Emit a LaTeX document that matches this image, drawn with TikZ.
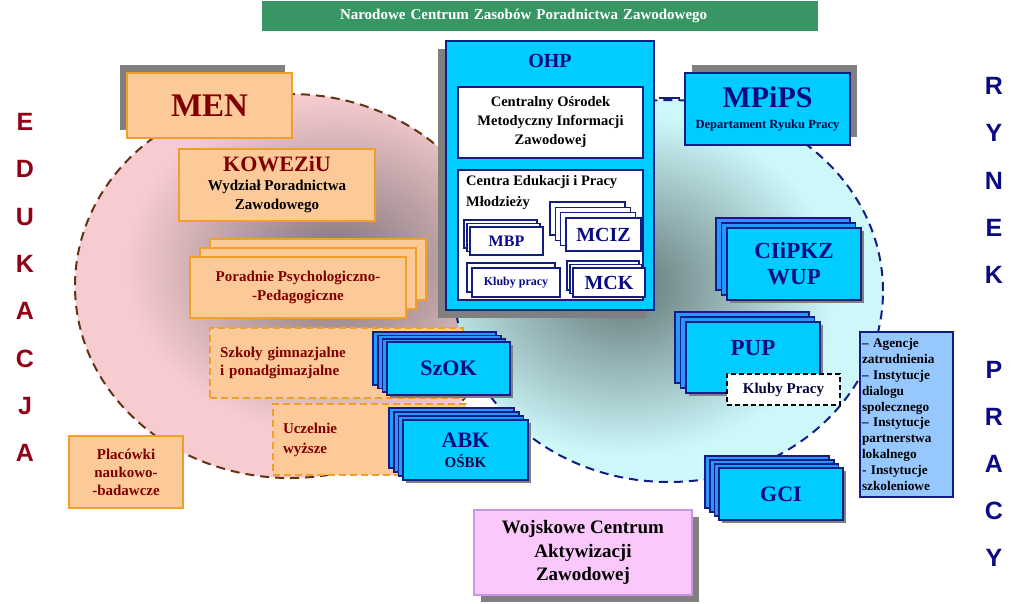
\documentclass[tikz,border=0pt]{standalone}
\usepackage{fontspec}
\setmainfont{Liberation Serif}
\newfontfamily\lettersans{Liberation Sans}
\usetikzlibrary{shadows}

\definecolor{peach}{RGB}{252,201,152}
\definecolor{orangeline}{RGB}{240,160,40}
\definecolor{maroontxt}{RGB}{128,0,0}
\definecolor{ohpcyan}{RGB}{0,204,255}
\definecolor{stackblue}{RGB}{40,150,255}
\definecolor{navyline}{RGB}{20,30,130}
\definecolor{navytxt}{RGB}{10,10,130}
\definecolor{titlegreen}{RGB}{56,150,100}
\definecolor{edupink}{RGB}{247,204,208}
\definecolor{edugray}{RGB}{125,115,117}
\definecolor{eduborder}{RGB}{100,50,20}
\definecolor{rynekcyan}{RGB}{204,248,250}
\definecolor{rynekgray}{RGB}{100,118,120}
\definecolor{wcazpink}{RGB}{250,200,250}
\definecolor{wcazline}{RGB}{200,150,230}
\definecolor{listblue}{RGB}{150,200,255}
\definecolor{boxshadow}{RGB}{128,128,128}
\definecolor{edured}{RGB}{145,0,20}

\newcommand{\sz}[2]{\fontsize{#1}{#2}\selectfont}

\tikzstyle{orangebox} = [rectangle, draw=orangeline, line width=1.8pt, fill=peach, align=center, inner sep=0pt, text=maroontxt, font=\bfseries\sz{15}{18.5}]
\tikzstyle{dashbox} = [orangebox, dash pattern=on 7pt off 4pt]
\tikzstyle{bluebox} = [rectangle, draw=navyline, line width=2pt, fill=ohpcyan, align=center, inner sep=0pt, text=navytxt, font=\bfseries\sz{22}{26}]
\tikzstyle{whitebox} = [rectangle, draw=navyline, line width=1.3pt, fill=white, align=center, inner sep=0pt, font=\bfseries\sz{14.5}{19}]
\tikzstyle{smallbox} = [whitebox, line width=1.5pt, text=navytxt]
\tikzstyle{edgeline} = [line width=2pt, dash pattern=on 9pt off 6pt]
\tikzstyle{sideletter} = [font=\lettersans\bfseries\sz{25}{25}, inner sep=0pt]
\tikzset{
  peachlayer/.style 2 args={general shadow={shadow xshift=#1pt, shadow yshift=#2pt, fill=peach, draw=orangeline, line width=1.8pt}},
  whitelayer/.style 2 args={general shadow={shadow xshift=#1pt, shadow yshift=#2pt, fill=white, draw=navyline, line width=1.5pt}},
  bluelayer/.style 2 args={general shadow={shadow xshift=#1pt, shadow yshift=#2pt, fill=stackblue, draw=navyline, line width=1.6pt}},
  grayshadow/.style 2 args={general shadow={shadow xshift=#1pt, shadow yshift=#2pt, fill=boxshadow, draw=none}},
}

\begin{document}
\begin{tikzpicture}[x=1pt, y=-1pt]
    \useasboundingbox (0,0) rectangle (1023,603);

    % obszary
    \begin{scope}
        \clip (290,286) ellipse [x radius=215pt, y radius=192pt];
        \fill[edupink] (290,286) ellipse [x radius=215pt, y radius=192pt];
        \shade[inner color=edugray, outer color=edupink] (335,265) ellipse [x radius=210pt, y radius=170pt];
    \end{scope}
    \draw[edgeline, eduborder] (290,286) ellipse [x radius=215pt, y radius=192pt];
    \begin{scope}
        \clip (669,291) ellipse [x radius=214pt, y radius=191pt];
        \fill[rynekcyan] (669,291) ellipse [x radius=214pt, y radius=191pt];
        \shade[inner color=rynekgray, outer color=rynekcyan] (625,285) ellipse [x radius=210pt, y radius=170pt];
    \end{scope}
    \draw[edgeline, navyline] (669,291) ellipse [x radius=214pt, y radius=191pt];

    \node[fill=titlegreen, text=white, minimum width=556pt, minimum height=30pt, text width=556pt, align=left, inner sep=0pt, font=\bfseries\sz{15}{17}] (ncz) at (540,16) {\hspace*{78pt}Narodowe Centrum Zasobów Poradnictwa Zawodowego};

    % edukacja
    \node[orangebox, grayshadow={-7}{8}, minimum width=165pt, minimum height=65pt, font=\bfseries\sz{33}{36}] (men) at (209.5,105.5) {MEN};
    \node[orangebox, minimum width=196pt, minimum height=72pt, font=\bfseries\sz{15}{19}] (koweziu) at (277,185) {{\sz{22}{22}KOWEZiU}\\{\color{black}Wydział Poradnictwa}\\{\color{black}Zawodowego}};
    \node[orangebox, peachlayer={20}{18}, peachlayer={10}{9}, minimum width=216pt, minimum height=61pt] (poradnie) at (298,287.5) {Poradnie Psychologiczno-\\-Pedagogiczne};
    \node[dashbox, minimum width=253pt, minimum height=70pt, text width=233pt, align=left, font=\bfseries\sz{15}{18}] (szkoly) at (336.5,363) {Szkoły gimnazjalne\\i ponadgimazjalne};
    \node[dashbox, minimum width=193pt, minimum height=71pt, text width=173pt, align=left, font=\bfseries\sz{15}{20}] (uczelnie) at (369.5,439.5) {Uczelnie\\wyższe};
    \node[orangebox, minimum width=114pt, minimum height=72pt, font=\bfseries\sz{15}{18}] (placowki) at (126,472) {Placówki\\naukowo-\\-badawcze};
    \node[bluebox, grayshadow={3}{-3}, bluelayer={-14}{10}, bluelayer={-9.3}{6.7}, bluelayer={-4.7}{3.3}, minimum width=123pt, minimum height=53pt] (szok) at (448.5,368.5) {SzOK};
    \node[bluebox, grayshadow={3}{-3}, bluelayer={-14}{12}, bluelayer={-9.3}{8}, bluelayer={-4.7}{4}, minimum width=125pt, minimum height=60pt, font=\bfseries\sz{22}{20}] (abk) at (465.5,450) {ABK\\{\sz{15}{15}\color{navytxt!55!black}OŚBK}};

    % OHP
    \node[bluebox, grayshadow={-8}{-8}, minimum width=208pt, minimum height=269pt] (ohp) at (550,175.5) {};
    \node[text=navytxt, font=\bfseries\sz{20}{22}, inner sep=0pt] (ohptitle) at (550,61) {OHP};
    \node[whitebox, minimum width=185pt, minimum height=71pt] (comiz) at (550.5,122.5) {Centralny Ośrodek\\Metodyczny Informacji\\Zawodowej};
    \node[whitebox, minimum width=185pt, minimum height=130pt] (ceipm) at (550.5,235) {};
    \node[anchor=north west, align=left, inner sep=0pt, font=\bfseries\sz{14.5}{21}] (ceipmtitle) at (466,175) {Centra Edukacji i Pracy\\Młodzieży};
    \node[smallbox, whitelayer={-6}{7}, whitelayer={-3}{3.5}, minimum width=73pt, minimum height=28pt, font=\bfseries\sz{16}{18}] (mbp) at (506.5,241) {MBP};
    \node[smallbox, whitelayer={-16}{16}, whitelayer={-10.7}{10.7}, whitelayer={-5.3}{5.3}, minimum width=75pt, minimum height=33pt, font=\bfseries\sz{20}{22}] (mciz) at (603.5,234.5) {MCIZ};
    \node[smallbox, whitelayer={-5}{5}, minimum width=88pt, minimum height=29pt, font=\bfseries\sz{12}{14}] (klubyohp) at (516,282.5) {Kluby pracy};
    \node[smallbox, whitelayer={-6}{7}, whitelayer={-3}{3.5}, minimum width=72pt, minimum height=29pt, font=\bfseries\sz{20}{22}] (mck) at (609,282.5) {MCK};

    % rynek pracy
    \node[bluebox, grayshadow={7}{8}, minimum width=165pt, minimum height=72pt, font=\bfseries\sz{30}{21}] (mpips) at (767.5,109) {MPiPS\\{\sz{12.5}{14}\color{navytxt!50!black}Departament Ryuku Pracy}};
    \coordinate (ohplink) at (0,98);
    \draw[navyline, line width=2.2pt, shorten <=4pt, shorten >=4pt] (ohp.east |- ohplink) -- (mpips.west |- ohplink);
    \node[bluebox, grayshadow={3}{-3}, bluelayer={-11}{10}, bluelayer={-5.5}{5}, minimum width=134pt, minimum height=72pt, font=\bfseries\sz{23}{26}] (cipkz) at (794,264) {CIiPKZ\\WUP};
    \node[bluebox, grayshadow={3}{-3}, bluelayer={-11}{10}, bluelayer={-5.5}{5}, minimum width=134pt, minimum height=71pt, font=\bfseries\sz{23}{26}] (pup) at (753,357.5) {\raisebox{20pt}{PUP}};
    \node[rectangle, draw=black, fill=white, line width=1.2pt, dash pattern=on 5pt off 3pt, minimum width=113pt, minimum height=31pt, inner sep=0pt, text=navytxt!45!black, font=\bfseries\sz{15}{17}] (klubypup) at (783.5,389.5) {Kluby Pracy};
    \node[bluebox, grayshadow={3}{-3}, bluelayer={-14}{12}, bluelayer={-9.3}{8}, bluelayer={-4.7}{4}, minimum width=124pt, minimum height=52pt] (gci) at (781,494) {GCI};
    \node[rectangle, draw=navyline, line width=1.3pt, fill=listblue, minimum width=93pt, minimum height=165pt, text width=89pt, inner sep=0pt, align=left, font=\bfseries\sz{13.3}{15.8}] (inne) at (906.5,414.5) {– Agencje\\zatrudnienia\\– Instytucje\\dialogu\\spolecznego\\– Instytucje\\partnerstwa\\lokalnego\\- Instytucje\\szkoleniowe};
    \node[rectangle, draw=wcazline, line width=1.8pt, fill=wcazpink, grayshadow={7}{-7}, minimum width=218pt, minimum height=85pt, inner sep=0pt, align=center, font=\bfseries\sz{19}{23.5}] (wcaz) at (583,552.5) {Wojskowe Centrum\\Aktywizacji\\Zawodowej};

    % napisy boczne
    \foreach \ch [count=\n] in {E,D,U,K,A,C,J,A}
        \node[sideletter, text=edured] (edu\n) at (25,{122+47.3*(\n-1)}) {\ch};
    \foreach \ch [count=\n] in {R,Y,N,E,K}
        \node[sideletter, text=navytxt] (rynek\n) at (994,{86+47.3*(\n-1)}) {\ch};
    \foreach \ch [count=\n] in {P,R,A,C,Y}
        \node[sideletter, text=navytxt] (pracy\n) at (994,{370+47*(\n-1)}) {\ch};
\end{tikzpicture}
\end{document}
